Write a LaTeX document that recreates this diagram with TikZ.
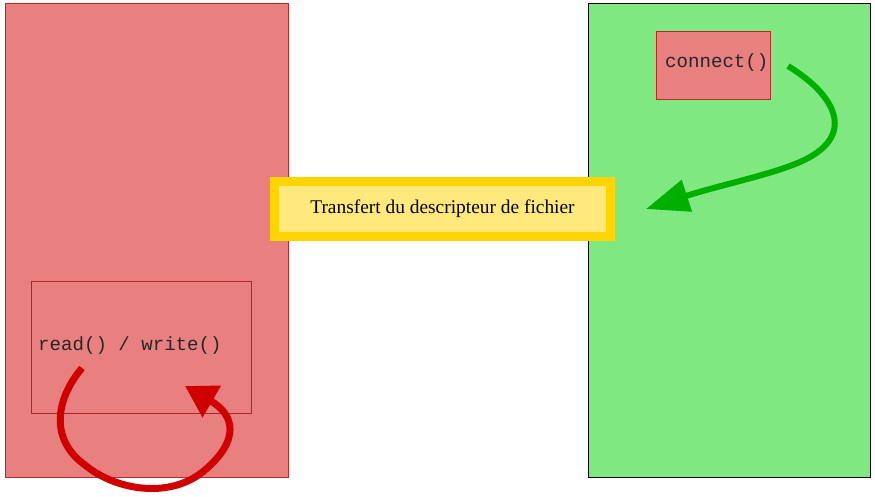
\documentclass[tikz,border=0pt]{standalone}
\usepackage{fontspec}
\setmainfont{Liberation Serif}
\setmonofont{Liberation Mono}
\usetikzlibrary{arrows.meta}
\definecolor{procred}{HTML}{E88080}
\definecolor{procredline}{HTML}{C02828}
\definecolor{procgreen}{HTML}{80E880}
\definecolor{arrowgreen}{HTML}{00B000}
\definecolor{arrowred}{HTML}{D00000}
\definecolor{gold}{HTML}{FFD400}
\definecolor{lightgold}{HTML}{FFE87C}
\tikzset{
  procbox/.style={rectangle,inner sep=0pt,outer sep=0pt,anchor=north west,line width=0.25mm},
  codetext/.style={inner sep=0pt,anchor=west,font=\fontsize{19.1}{20}\selectfont\ttfamily,text=black!85},
  bigarrow/.style={line width=6pt}
}
\begin{document}
\begin{tikzpicture}[x=1pt,y=-1pt]
        \useasboundingbox (0,0) rectangle (875,497);
        %PROCESS LEFT
        \node[procbox,fill=procred,draw=procredline,minimum width=283,minimum height=474] (left) at (5,3) {};
        \node[procbox,draw=procredline!90!black,minimum width=220,minimum height=132] (rwbox) at (31,281) {};
        \node[codetext] (rw) at (38,346) {read() / write()};
        %PROCESS RIGHT
        \node[procbox,fill=procgreen,draw=black,minimum width=282,minimum height=474] (right) at (588,3) {};
        \node[procbox,fill=procred,draw=procredline,minimum width=114,minimum height=68] (conbox) at (656,31) {};
        \node[codetext] (con) at (665,63) {connect()};
        %TRANSFER
        \node[rectangle,fill=lightgold,draw=gold,line width=9pt,minimum width=336,minimum height=54,inner sep=0pt,
              font=\fontsize{19.4}{20}\selectfont] (transfer) at (442.5,209) {Transfert du descripteur de fichier};

        \coordinate (gstart) at (788,66);
        \coordinate (gend) at (646,209);
        \coordinate (rstart) at (82,368);
        \coordinate (rend) at (185,386);
        % \draw [arrowgreen] (con.east) -- (transfer.east);
        \draw[arrowgreen,bigarrow,-{Triangle[length=43pt,width=32pt]}] (gstart) .. controls (840,98) and (855,138) .. (800,162)
              .. controls (770,175) and (720,185) .. (gend);
        \draw[arrowred,bigarrow,line width=7pt,-{Triangle[length=31pt,width=35pt]}] (rstart) .. controls (55,400) and (50,440) .. (85,465)
              .. controls (115,490) and (170,500) .. (205,470) .. controls (240,440) and (235,415) .. (rend);
\end{tikzpicture}
\end{document}
